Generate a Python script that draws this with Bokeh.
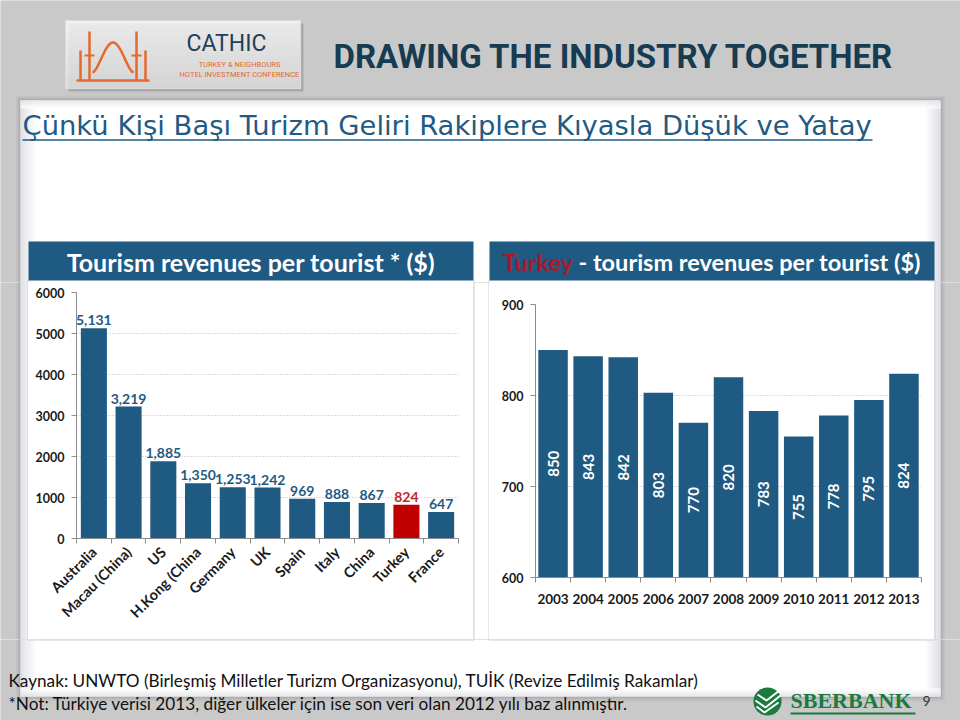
import math
from bokeh.plotting import figure
from bokeh.layouts import column, row
from bokeh.models import Range1d, FixedTicker, ColumnDataSource
from bokeh.embed import file_html
from bokeh.resources import INLINE
from bokeh.core.properties import value

# ---------------- data ----------------
countries = ["Australia", "Macau (China)", "US", "H.Kong (China", "Germany", "UK",
             "Spain", "Italy", "China", "Turkey", "France"]
revenue_per_tourist = [5131, 3219, 1885, 1350, 1253, 1242, 969, 888, 867, 824, 647]
highlight_country = "Turkey"
left_yticks = [0, 1000, 2000, 3000, 4000, 5000, 6000]

years = ["2003", "2004", "2005", "2006", "2007", "2008", "2009", "2010", "2011", "2012", "2013"]
turkey_revenue = [850, 843, 842, 803, 770, 820, 783, 755, 778, 795, 824]
right_yticks = [600, 700, 800, 900]

header_title = "DRAWING THE INDUSTRY TOGETHER"
slide_title = "Çünkü Kişi Başı Turizm Geliri Rakiplere Kıyasla Düşük ve Yatay"
left_chart_title = "Tourism revenues per tourist * ($)"
right_chart_title_red = "Turkey"
right_chart_title_rest = "- tourism revenues per tourist ($)"
source_note = "Kaynak: UNWTO (Birleşmiş Milletler Turizm Organizasyonu), TUİK (Revize Edilmiş Rakamlar)"
footnote = "*Not: Türkiye verisi 2013, diğer ülkeler için ise son veri olan 2012 yılı baz alınmıştır."

# ---------------- styles ----------------
GRAY = "#c9c9c9"
BLUE = "#1f5a82"
RED_BAR = "#c00000"
RED_LABEL = "#c0282d"
RED_TITLE = "#a41c2c"
AXIS = "#8c8c8c"
GRID = "#b8b8b8"
BOX = "#cfcfcf"
ORANGE = "#e36a2c"
DARK = "#173b51"
GREEN = "#1b7a3d"
CAL = "Lato"


def no_align(p):
    if "frame_align" in p.properties():
        p.frame_align = False


def mix(c0, c1, t):
    return "#%02x%02x%02x" % tuple(int(round(a + (b - a) * t)) for a, b in zip(c0, c1))


def hgrad(f, x0, x1, y0, y1, c0, c1):
    n = int(abs(x1 - x0))
    s = 1 if x1 > x0 else -1
    f.quad(left=[x0 + s * i for i in range(n)], right=[x0 + s * (i + 1) for i in range(n)],
           top=[y0] * n, bottom=[y1] * n,
           fill_color=[mix(c0, c1, (i + 0.5) / n) for i in range(n)], line_color=None)


def vgrad(f, x0, x1, y0, y1, c0, c1):
    n = int(abs(y1 - y0))
    s = 1 if y1 > y0 else -1
    f.quad(left=[x0] * n, right=[x1] * n, top=[y0 + s * i for i in range(n)],
           bottom=[y0 + s * (i + 1) for i in range(n)],
           fill_color=[mix(c0, c1, (i + 0.5) / n) for i in range(n)], line_color=None)


def draw_shapes(f):
    # slide panel with soft shadow
    for d, a in [(5, 0.05), (4, 0.07), (3, 0.09), (2, 0.12), (1, 0.15)]:
        f.quad(left=20 - d, right=940 + d, top=100 - d, bottom=696 + d,
               fill_color="#808080", fill_alpha=a, line_color=None)
    f.quad(left=20, right=940, top=100, bottom=696, fill_color="white", line_color=None)
    hgrad(f, 20, 36, 100, 696, (214, 214, 224), (255, 255, 255))
    hgrad(f, 940, 924, 100, 696, (210, 210, 222), (255, 255, 255))
    vgrad(f, 20, 940, 100, 108, (226, 226, 232), (255, 255, 255))
    vgrad(f, 20, 940, 696, 688, (222, 222, 228), (255, 255, 255))
    # chart box borders
    f.segment(x0=[27.5, 473.5, 488.5, 934.5, 27.5, 488.5],
              y0=[280, 280, 280, 280, 639.5, 639.5],
              x1=[27.5, 473.5, 488.5, 934.5, 473.5, 934.5],
              y1=[639.5, 639.5, 639.5, 639.5, 639.5, 639.5],
              line_color=BOX, line_width=1)


def draw_header(f):
    # logo box
    f.quad(left=68, right=303, top=23, bottom=91, fill_color="#8f8f8f", fill_alpha=0.55, line_color=None)
    vgrad(f, 65, 300, 20, 88, (255, 255, 255), (226, 226, 226))
    f.quad(left=65, right=300, top=20, bottom=88, fill_color=None, line_color="#dcdcdc")
    # mosque icon
    f.multi_line(xs=[[80, 80], [89, 89], [136, 136], [145, 145], [76, 149]],
                 ys=[[50, 80], [31, 80], [31, 80], [50, 80], [80, 80]],
                 line_color=ORANGE, line_width=2.5)
    dome_x = [92 + i for i in range(42)]
    dome_y = [72 - 30 * math.sin(math.pi * (x - 92) / 41) ** 1.6 for x in dome_x]
    f.line(dome_x, dome_y, line_color=ORANGE, line_width=2.5)
    f.multi_line(xs=[[84, 94], [131, 141]], ys=[[55, 55], [55, 55]], line_color=ORANGE, line_width=2)
    f.text(x=[226], y=[43], text=["CATHIC"], text_align="center", text_baseline="middle",
           text_font=value("Roboto"), text_font_size="23px", text_color="#1f3e57")
    f.text(x=[239, 239], y=[64, 74], text=["TURKEY & NEIGHBOURS", "HOTEL INVESTMENT CONFERENCE"],
           text_align="center", text_baseline="middle",
           text_font=value("Roboto"), text_font_size="7.5px", text_color=ORANGE)

    f.text(x=[333], y=[56], text=[header_title], text_align="left", text_baseline="middle",
           text_font=value("Roboto"), text_font_style="bold",
           text_font_size="33px", text_color=DARK)

    # slide title with underline
    f.text(x=[22], y=[125], text=[slide_title], text_align="left", text_baseline="middle",
           text_font=value("DejaVu Sans"), text_font_size="27.4px", text_color="#215b84")
    f.segment(x0=[22], y0=[139.5], x1=[872], y1=[139.5], line_color="#215b84", line_width=1.5)

    # chart banners
    f.quad(left=[28, 489], right=[473, 934], top=[241, 241], bottom=[280, 280],
           fill_color=BLUE, line_color=None)
    f.text(x=[250.5], y=[261], text=[left_chart_title], text_align="center", text_baseline="middle",
           text_font=value(CAL), text_font_style="bold", text_font_size="25px", text_color="white")
    f.text(x=[502], y=[261], text=[right_chart_title_red], text_align="left", text_baseline="middle",
           text_font=value(CAL), text_font_style="bold", text_font_size="23.5px", text_color=RED_TITLE)
    f.text(x=[578], y=[261], text=[right_chart_title_rest], text_align="left", text_baseline="middle",
           text_font=value(CAL), text_font_style="bold", text_font_size="23.5px", text_color="white")


def draw_footer(f):
    f.text(x=[8, 8], y=[680, 703], text=[source_note, footnote], text_align="left",
           text_baseline="middle", text_font=value(CAL), text_font_size="17.2px", text_color="#111111")
    f.ellipse(x=[767], y=[701], width=[28], height=[28], fill_color=GREEN, line_color=None)
    f.multi_line(xs=[[757, 766, 779], [755, 765, 780], [756, 764, 778]],
                 ys=[[694, 700, 690], [700, 707, 695], [706, 712, 702]],
                 line_color="white", line_width=2)
    f.text(x=[790], y=[700], text=["SBERBANK"], text_align="left", text_baseline="middle",
           text_font=value("Liberation Serif"), text_font_style="bold", text_font_size="22px",
           text_color=GREEN)
    f.segment(x0=[790], y0=[713], x1=[915], y1=[713], line_color=GREEN, line_width=2)
    f.text(x=[922], y=[700], text=["9"], text_align="left", text_baseline="middle",
           text_font=value(CAL), text_font_size="14px", text_color="#333333")


def window(w, h, x0, y0, extra=None):
    f = figure(width=w, height=h, x_range=Range1d(x0, x0 + w), y_range=Range1d(y0 + h, y0),
               output_backend="svg", toolbar_location=None, tools="",
               x_axis_location=None, y_axis_location=None, min_border=0)
    no_align(f)
    f.outline_line_color = None
    f.background_fill_color = GRAY
    f.border_fill_color = GRAY
    f.grid.visible = False
    f.quad(left=x0, right=x0 + w, top=y0, bottom=y0 + h, fill_color=GRAY, line_color=None)
    draw_shapes(f)
    if extra is not None:
        extra(f)
    return f


def style_chart(p):
    no_align(p)
    p.background_fill_color = "white"
    p.border_fill_color = "white"
    p.outline_line_color = None
    p.xgrid.visible = False
    p.ygrid.grid_line_color = GRID
    p.ygrid.grid_line_dash = "1 2"
    for ax in (p.xaxis, p.yaxis):
        ax.axis_line_color = AXIS
        ax.major_label_text_font = CAL
        ax.major_label_text_font_style = "bold"
        ax.major_label_text_color = "#1a1a1a"
    p.yaxis.major_tick_line_color = AXIS
    p.yaxis.major_tick_out = 5
    p.yaxis.major_tick_in = 0
    p.yaxis.minor_tick_line_color = None
    p.yaxis.major_label_text_font_size = "12.5px"
    p.yaxis.major_label_standoff = 7
    p.xaxis.major_tick_line_color = None
    p.xaxis.major_tick_out = 0
    p.xaxis.major_tick_in = 0
    p.xaxis.minor_tick_line_color = AXIS
    p.xaxis.minor_tick_out = 5
    p.xaxis.minor_tick_in = 0


# ---------------- left chart ----------------
n1 = len(countries)
src1 = ColumnDataSource(dict(
    x=list(range(n1)),
    top=revenue_per_tourist,
    color=[RED_BAR if c == highlight_country else BLUE for c in countries],
    label=["{:,}".format(v) for v in revenue_per_tourist],
    label_color=[RED_LABEL if c == highlight_country else BLUE for c in countries],
))
p1 = figure(width=445, height=357, x_range=Range1d(-0.5, n1 - 0.5),
            y_range=Range1d(left_yticks[0], left_yticks[-1]),
            output_backend="svg", toolbar_location=None, tools="",
            min_border_left=48, min_border_right=15, min_border_top=10, min_border_bottom=101)
style_chart(p1)
p1.yaxis.ticker = FixedTicker(ticks=left_yticks)
p1.ygrid.ticker = FixedTicker(ticks=left_yticks[1:])
p1.xaxis.ticker = FixedTicker(ticks=list(range(n1)), minor_ticks=[i - 0.5 for i in range(n1 + 1)])
p1.xaxis.major_label_overrides = {i: c for i, c in enumerate(countries)}
p1.xaxis.major_label_orientation = math.pi / 4
p1.xaxis.major_label_standoff = 6
p1.xaxis.major_label_text_font_size = "14.5px"
p1.vbar(x="x", top="top", width=0.75, fill_color="color", line_color=None, source=src1)
p1.text(x="x", y="top", text="label", text_color="label_color", source=src1,
        text_align="center", text_baseline="bottom", y_offset=-3,
        text_font=value(CAL), text_font_style="bold", text_font_size="14px")

# ---------------- right chart ----------------
n2 = len(years)
src2 = ColumnDataSource(dict(
    x=list(range(n2)),
    top=turkey_revenue,
    mid=[(right_yticks[0] + v) / 2 for v in turkey_revenue],
    label=[str(v) for v in turkey_revenue],
))
p2 = figure(width=445, height=357, x_range=Range1d(-0.5, n2 - 0.5),
            y_range=Range1d(right_yticks[0], right_yticks[-1]),
            output_backend="svg", toolbar_location=None, tools="",
            min_border_left=46, min_border_right=13, min_border_top=22, min_border_bottom=62)
style_chart(p2)
p2.yaxis.ticker = FixedTicker(ticks=right_yticks)
p2.ygrid.ticker = FixedTicker(ticks=right_yticks[1:])
p2.xaxis.ticker = FixedTicker(ticks=list(range(n2)), minor_ticks=[i - 0.5 for i in range(n2 + 1)])
p2.xaxis.major_label_overrides = {i: y for i, y in enumerate(years)}
p2.xaxis.major_label_standoff = 11
p2.xaxis.major_label_text_font_size = "13.5px"
p2.vbar(x="x", top="top", bottom=right_yticks[0], width=0.84, fill_color=BLUE, line_color=None, source=src2)
p2.text(x="x", y="mid", text="label", source=src2, angle=math.pi / 2,
        text_align="center", text_baseline="middle", text_color="white",
        text_font=value(CAL), text_font_style="bold", text_font_size="15px")

# ---------------- page assembly ----------------
header = window(960, 282, 0, 0, draw_header)
lpad = window(28, 357, 0, 282)
gap = window(16, 357, 473, 282)
rpad = window(26, 357, 934, 282)
footer = window(960, 81, 0, 639, draw_footer)

layout = column(header, row(lpad, p1, gap, p2, rpad, spacing=0), footer, spacing=0)

with open("out.html", "w") as fh:
    fh.write(file_html(layout, INLINE, title="Tourism revenues per tourist"))
